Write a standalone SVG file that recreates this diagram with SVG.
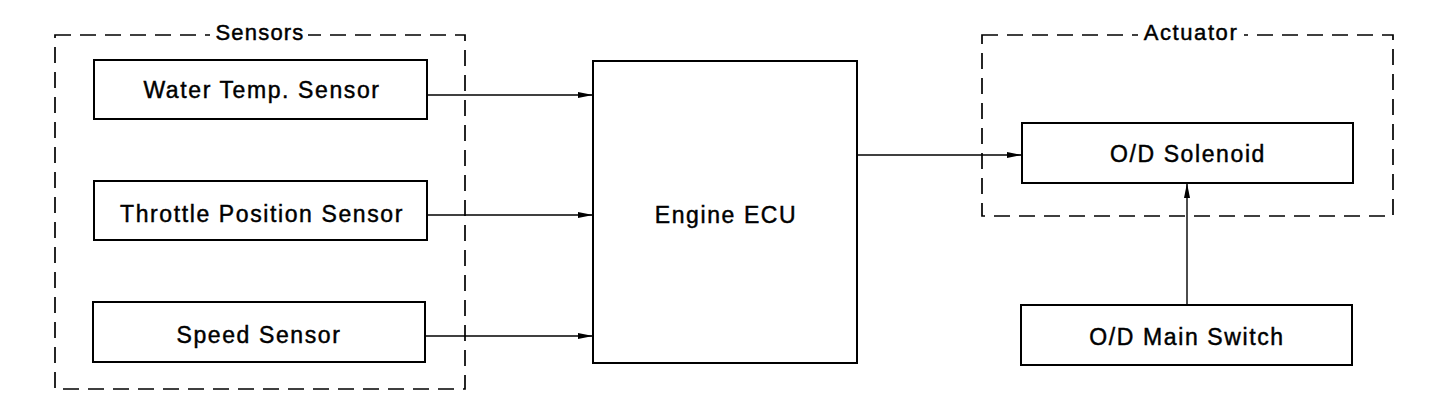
<svg xmlns="http://www.w3.org/2000/svg" width="1440" height="420" viewBox="0 0 1440 420">
<style>
.node{fill:#fff;stroke:#000;stroke-width:2}
.group{fill:none;stroke:#000;stroke-width:1.7;stroke-dasharray:16 9}
.lbl{font-family:"Liberation Sans",Arial,Helvetica,sans-serif;font-size:23px;letter-spacing:1.6px;fill:#000;stroke:#000;stroke-width:0.45;text-anchor:middle}
.conn{fill:none;stroke:#000;stroke-width:1.4}
</style>
<defs>
<marker id="arr" markerUnits="userSpaceOnUse" markerWidth="16" markerHeight="8" refX="15" refY="3.5" orient="auto">
<path d="M0,0.5 L15,3.5 L0,6.5 Z" fill="#000"/>
</marker>
</defs>
<rect width="1440" height="420" fill="#fff"/>
<g id="sensors-group">
<rect class="group" x="55" y="35" width="410" height="354"/>
<rect x="210" y="26" width="98" height="18" fill="#fff"/>
<text class="lbl" x="260" y="40" style="font-size:22px;letter-spacing:1.2px">Sensors</text>
</g>
<g id="actuator-group">
<rect class="group" x="982" y="35" width="411" height="181"/>
<rect x="1138" y="26" width="106" height="18" fill="#fff"/>
<text class="lbl" x="1191" y="40" style="font-size:22px;letter-spacing:1.6px">Actuator</text>
</g>
<g id="water-temp-sensor">
<rect class="node" x="94" y="60" width="333" height="59"/>
<text class="lbl" x="262" y="98">Water Temp. Sensor</text>
</g>
<g id="throttle-position-sensor">
<rect class="node" x="94" y="181" width="333" height="59"/>
<text class="lbl" x="262" y="222">Throttle Position Sensor</text>
</g>
<g id="speed-sensor">
<rect class="node" x="93" y="302" width="332" height="60"/>
<text class="lbl" x="259" y="343">Speed Sensor</text>
</g>
<g id="engine-ecu">
<rect class="node" x="593" y="61" width="264" height="302"/>
<text class="lbl" x="726" y="223">Engine ECU</text>
</g>
<g id="od-solenoid">
<rect class="node" x="1022" y="123" width="331" height="60"/>
<text class="lbl" x="1188" y="162">O/D Solenoid</text>
</g>
<g id="od-main-switch">
<rect class="node" x="1021" y="305" width="331" height="60"/>
<text class="lbl" x="1187" y="345">O/D Main Switch</text>
</g>
<g id="connectors">
<line class="conn" x1="427" y1="95" x2="593" y2="95" marker-end="url(#arr)"/>
<line class="conn" x1="427" y1="215" x2="593" y2="215" marker-end="url(#arr)"/>
<line class="conn" x1="425" y1="336" x2="593" y2="336" marker-end="url(#arr)"/>
<line class="conn" x1="857" y1="155" x2="1022" y2="155" marker-end="url(#arr)"/>
<line class="conn" x1="1187" y1="305" x2="1187" y2="183" marker-end="url(#arr)"/>
</g>
</svg>
